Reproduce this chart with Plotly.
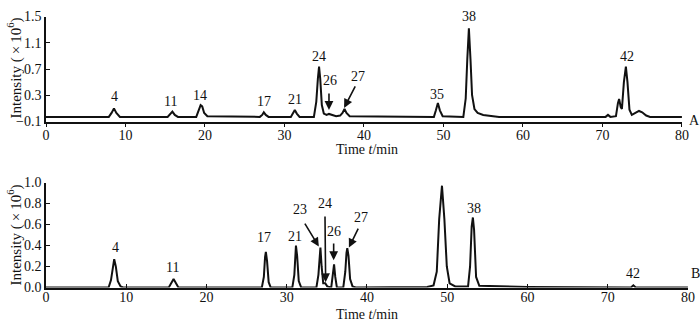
import plotly.graph_objects as go

# ---------------- data ----------------
time_A = [0, 7.9, 8.25, 8.55, 8.85, 9.3, 15.3, 15.65, 15.9, 16.2, 16.6, 18.9, 19.2, 19.45, 19.65, 19.9, 20.3,
          26.9, 27.2, 27.4, 27.65, 28.0, 30.8, 31.1, 31.3, 31.55, 31.9, 33.7, 34.0, 34.2, 34.35, 34.5, 34.7,
          34.95, 35.3, 35.6, 36.0, 36.5, 37.0, 37.3, 37.55, 37.8, 38.2, 48.8, 49.05, 49.3, 49.55, 49.9, 52.5,
          52.8, 53.0, 53.2, 53.4, 53.6, 53.9, 54.3, 55.0, 56.0, 57.0, 70.4, 70.7, 71.0, 71.7, 71.95, 72.1,
          72.3, 72.45, 72.7, 72.95, 73.15, 73.4, 73.7, 74.2, 74.6, 75.0, 75.5, 76.0, 80]
int_A = [-0.03, -0.03, 0.03, 0.10, 0.03, -0.03, -0.03, 0.01, 0.05, 0.0, -0.03, -0.03, 0.07, 0.15, 0.13, 0.03, -0.02,
         -0.03, 0.0, 0.04, 0.0, -0.03, -0.03, 0.03, 0.076, 0.02, -0.03, -0.03, 0.2, 0.55, 0.736, 0.55, 0.15,
         0.02, 0.0, 0.015, 0.0, -0.02, -0.01, 0.03, 0.09, 0.03, -0.02, -0.03, 0.07, 0.18, 0.07, -0.02, -0.03,
         0.25, 0.85, 1.32, 0.85, 0.3, 0.09, 0.03, 0.0, -0.02, -0.03, -0.03, 0.0, -0.03, -0.02, 0.18, 0.244,
         0.12, 0.09, 0.5, 0.736, 0.5, 0.08, 0.0, 0.04, 0.06, 0.04, -0.01, -0.03, -0.03]

time_B = [0, 7.8, 8.1, 8.3, 8.5, 8.7, 8.95, 9.3, 9.6, 15.3, 15.6, 15.9, 16.2, 16.5, 26.9, 27.15, 27.3, 27.4,
          27.55, 27.75, 28.0, 30.7, 30.95, 31.07, 31.15, 31.3, 31.5, 31.8, 33.7, 33.95, 34.08, 34.2, 34.35,
          34.55, 34.8, 35.05, 35.55, 35.75, 35.9, 36.05, 36.25, 37.05, 37.3, 37.45, 37.55, 37.7, 37.9, 38.2,
          38.6, 47.5, 48.3, 48.7, 49.0, 49.35, 49.65, 49.95, 50.3, 51.0, 52.6, 52.85, 53.05, 53.2, 53.35,
          53.6, 54.0, 60.0, 72.9, 73.2, 73.5, 80]
int_B = [0, 0, 0.07, 0.2, 0.27, 0.2, 0.06, 0.01, 0, 0, 0.04, 0.08, 0.04, 0, 0, 0.1, 0.29, 0.34,
         0.25, 0.05, 0, 0, 0.12, 0.35, 0.40, 0.3, 0.06, 0, 0, 0.12, 0.33, 0.38, 0.2,
         0.04, 0.04, 0.01, 0, 0.1, 0.22, 0.1, 0, 0, 0.15, 0.33, 0.375, 0.3, 0.08, 0.01,
         0, 0.005, 0.02, 0.15, 0.65, 0.97, 0.65, 0.2, 0.04, 0.01, 0.01, 0.2, 0.58, 0.667, 0.55,
         0.1, 0.015, 0.005, 0, 0.02, 0, 0]

x_ticks = [0, 10, 20, 30, 40, 50, 60, 70, 80]
y_ticks_A = [-0.1, 0.3, 0.7, 1.1, 1.5]
y_ticks_B = [0.0, 0.2, 0.4, 0.6, 0.8, 1.0]

# peak labels: (text, x, y) in data units
labels_A = [("4", 8.6, 0.274), ("11", 15.7, 0.198), ("14", 19.4, 0.29), ("17", 27.4, 0.198),
            ("21", 31.3, 0.229), ("24", 34.3, 0.884), ("26", 35.7, 0.518), ("27", 39.25, 0.579),
            ("35", 49.2, 0.305), ("38", 53.2, 1.494), ("42", 73.1, 0.884)]
labels_B = [("4", 8.6, 0.377), ("11", 15.8, 0.19), ("17", 27.2, 0.472), ("21", 31.0, 0.49),
            ("23", 31.65, 0.745), ("24", 34.8, 0.80), ("26", 35.9, 0.538), ("27", 39.25, 0.67),
            ("35", 49.2, 1.066), ("38", 53.3, 0.755), ("42", 73.15, 0.132)]
trace_names = ["A", "B"]
# arrows: (tail_x, tail_y, tip_x, tip_y)
arrows_A = [(35.6, 0.35, 35.6, 0.076), (39.0, 0.457, 37.5, 0.107)]
arrows_B = [(32.15, 0.623, 34.0, 0.39), (34.77, 0.69, 34.85, 0.05),
            (35.85, 0.434, 35.85, 0.26), (39.0, 0.575, 37.75, 0.38)]

FONT = "Liberation Serif"

fig = go.Figure()
fig.add_trace(go.Scatter(x=time_A, y=int_A, mode="lines", line=dict(color="#111111", width=2),
                         xaxis="x", yaxis="y", showlegend=False, hoverinfo="skip"))
fig.add_trace(go.Scatter(x=time_B, y=int_B, mode="lines", line=dict(color="#111111", width=2),
                         xaxis="x2", yaxis="y2", showlegend=False, hoverinfo="skip"))

axis_common = dict(showgrid=False, zeroline=False, showline=True, linecolor="#111111", linewidth=1.5,
                   tickcolor="#111111", tickwidth=1.2, ticklen=4, automargin=False,
                   tickfont=dict(family=FONT, size=14, color="#111111"))

fig.update_layout(
    width=700, height=330,
    margin=dict(l=0, r=0, t=0, b=0, pad=0),
    paper_bgcolor="white", plot_bgcolor="white",
    xaxis=dict(domain=[46 / 700, 682 / 700], range=[0, 80.01], tickvals=x_ticks, ticks="outside",
               ticklabelstandoff=-4, anchor="y", **axis_common),
    yaxis=dict(domain=[1 - 121.5 / 330, 1 - 16.5 / 330], range=[-0.1005, 1.5005], tickvals=y_ticks_A,
               ticktext=["\u22120.1", "0.3", "0.7", "1.1", "1.5"], ticks="inside", anchor="x", **axis_common),
    xaxis2=dict(domain=[46 / 700, 688 / 700], range=[0, 80.01], tickvals=x_ticks, ticks="inside",
                ticklabelstandoff=-4, anchor="y2", **axis_common),
    yaxis2=dict(domain=[1 - 287.5 / 330, 1 - 182.5 / 330], range=[-0.0005, 1.0005], tickvals=y_ticks_B,
                tickformat=".1f", ticks="inside", anchor="x2", **axis_common),
)

ann = []
tf = dict(family=FONT, size=14, color="#111111")
for t, x, y in labels_A:
    ann.append(dict(text=t, x=x, y=y, xref="x", yref="y", showarrow=False, font=tf))
for t, x, y in labels_B:
    ann.append(dict(text=t, x=x, y=y, xref="x2", yref="y2", showarrow=False, font=tf))
for ax_, ay_, x, y in arrows_A:
    ann.append(dict(text="", x=x, y=y, ax=ax_, ay=ay_, xref="x", yref="y", axref="x", ayref="y",
                    showarrow=True, arrowhead=2, arrowsize=1.1, arrowwidth=1.6, arrowcolor="#111111"))
for ax_, ay_, x, y in arrows_B:
    ann.append(dict(text="", x=x, y=y, ax=ax_, ay=ay_, xref="x2", yref="y2", axref="x2", ayref="y2",
                    showarrow=True, arrowhead=2, arrowsize=1.1, arrowwidth=1.6, arrowcolor="#111111"))


def paper_text(text, px, py, angle=0, xanchor="center", size=14):
    return dict(text=text, x=px / 700, y=1 - py / 330, xref="paper", yref="paper", showarrow=False,
                xanchor=xanchor, yanchor="middle", textangle=angle,
                font=dict(family=FONT, size=size, color="#111111"))


ytitle = "Intensity (\u2009\u00d7\u200910<sup>6</sup>)"
# trace names A / B at right end
ann.append(paper_text(trace_names[0], 694, 120))
ann.append(paper_text(trace_names[1], 695, 273))
# axis titles
ann.append(paper_text("Time <i>t</i>/min", 367, 149))
ann.append(paper_text("Time <i>t</i>/min", 367, 314))
ann.append(paper_text(ytitle, 3, 68, angle=-90, xanchor="left", size=15))
ann.append(paper_text(ytitle, 3, 235, angle=-90, xanchor="left", size=15))
fig.update_layout(annotations=ann)

fig.write_html("out.html", config={"displayModeBar": False},
               post_script="document.body.style.margin='0px';document.body.style.overflow='hidden';")
